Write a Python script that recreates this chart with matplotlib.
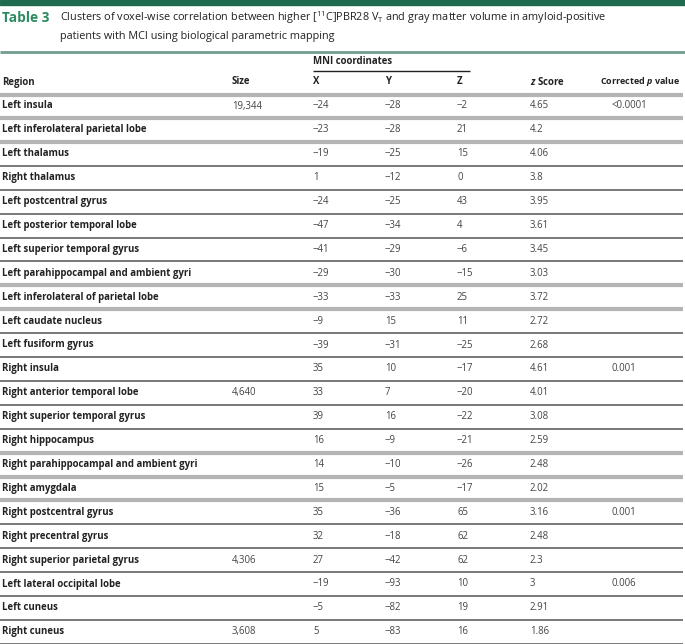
import matplotlib.pyplot as plt
from matplotlib.lines import Line2D

plt.rcParams['font.family'] = ['Open Sans', 'DejaVu Sans']
plt.rcParams['mathtext.fontset'] = 'custom'
plt.rcParams['mathtext.rm'] = 'Open Sans'
plt.rcParams['mathtext.it'] = 'Open Sans:italic:bold'

# table data
regions = [
    "Left insula", "Left inferolateral parietal lobe", "Left thalamus", "Right thalamus",
    "Left postcentral gyrus", "Left posterior temporal lobe", "Left superior temporal gyrus",
    "Left parahippocampal and ambient gyri", "Left inferolateral of parietal lobe",
    "Left caudate nucleus", "Left fusiform gyrus", "Right insula", "Right anterior temporal lobe",
    "Right superior temporal gyrus", "Right hippocampus", "Right parahippocampal and ambient gyri",
    "Right amygdala", "Right postcentral gyrus", "Right precentral gyrus",
    "Right superior parietal gyrus", "Left lateral occipital lobe", "Left cuneus", "Right cuneus",
]
sizes = ["19,344", "", "", "", "", "", "", "", "", "", "", "", "4,640", "", "", "", "", "",
         "", "4,306", "", "", "3,608"]
mni_x = [-24, -23, -19, 1, -24, -47, -41, -29, -33, -9, -39, 35, 33, 39, 16, 14, 15, 35, 32,
         27, -19, -5, 5]
mni_y = [-28, -28, -25, -12, -25, -34, -29, -30, -33, 15, -31, 10, 7, 16, -9, -10, -5, -36,
         -18, -42, -93, -82, -83]
mni_z = [-2, 21, 15, 0, 43, 4, -6, -15, 25, 11, -25, -17, -20, -22, -21, -26, -17, 65, 62,
         62, 10, 19, 16]
z_scores = ["4.65", "4.2", "4.06", "3.8", "3.95", "3.61", "3.45", "3.03", "3.72", "2.72",
            "2.68", "4.61", "4.01", "3.08", "2.59", "2.48", "2.02", "3.16", "2.48", "2.3",
            "3", "2.91", "1.86"]
p_values = ["<0.0001", "", "", "", "", "", "", "", "", "", "", "0.001", "", "", "", "", "",
            "0.001", "", "", "0.006", "", ""]

# separator style under each row: True = light thick, False = dark thin
light_sep = [True, True, False, False, False, False, False, True, True, False, False, False,
             False, False, True, True, True, False, False, False, False, False, False]

W, H = 685, 644
fig = plt.figure(figsize=(W / 100, H / 100), dpi=100)


def fx(x):
    return x / W


def fy(y):
    return 1 - y / H


def hline(y, x0, x1, color, lw):
    fig.add_artist(Line2D([fx(x0), fx(x1)], [fy(y), fy(y)], color=color, lw=lw,
                          transform=fig.transFigure, solid_capstyle='butt'))


def minus(v):
    return str(v).replace('-', '\u2212')


# top bar and caption
fig.add_artist(plt.Rectangle((0, fy(5)), 1, 5 / H, color='#1f6b50', transform=fig.transFigure))
green = '#2a8a60'
fig.text(fx(2), fy(18), "Table 3", color=green, fontsize=9.8, fontweight='bold', va='center')
fig.text(fx(60), fy(18),
         r"Clusters of voxel-wise correlation between higher [$^{11}$C]PBR28 V$_\mathrm{T}$"
         " and gray matter volume in amyloid-positive",
         color='#222222', fontsize=7.8, va='center')
fig.text(fx(60), fy(37), "patients with MCI using biological parametric mapping",
         color='#222222', fontsize=7.8, va='center')
hline(52, 0, 685, '#6f9e8c', 2)

# header
cols = [2, 232, 313, 385, 457, 530, 612]
fs = 6.9
hdr = dict(fontsize=fs, fontweight='bold', color='#222222', va='center')
fig.text(fx(313), fy(62), "MNI coordinates", **hdr)
hline(71, 313, 470, '#222222', 1)
headers = ["Region", "Size", "X", "Y", "Z", r"$z$ Score"]
for x, h in zip(cols, headers):
    fig.text(fx(x), fy(82), h, **hdr)
fig.text(fx(680), fy(82), r"Corrected $p$ value", fontsize=6.5, fontweight='bold',
         color='#222222', va='center', ha='right')
hline(95, 0, 683, '#b4b4b4', 3)

# rows
y0, step = 106, 23.9
for i in range(len(regions)):
    y = y0 + i * step
    fig.text(fx(cols[0]), fy(y), regions[i], fontsize=fs, fontweight='bold',
             color='#222222', va='center')
    vals = [sizes[i], minus(mni_x[i]), minus(mni_y[i]), minus(mni_z[i]), z_scores[i], p_values[i]]
    for x, v in zip(cols[1:], vals):
        fig.text(fx(x), fy(y), v, fontsize=fs, color='#444444', va='center')
    if light_sep[i]:
        hline(y + 12, 0, 683, '#b4b4b4', 3)
    else:
        hline(y + 12, 0, 683, '#6e6e6e', 1.3)

fig.savefig("out.png", dpi=100)
